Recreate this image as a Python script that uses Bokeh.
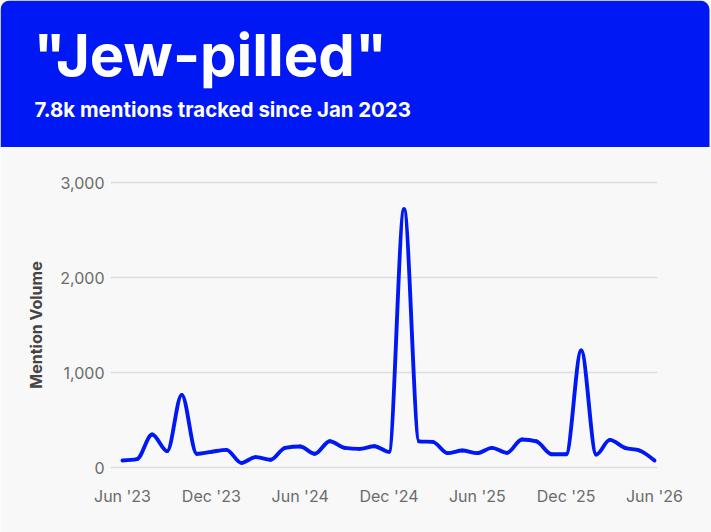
import numpy as np
import pandas as pd
from bokeh.embed import file_html
from bokeh.layouts import column
from bokeh.models import (BoxAnnotation, ColumnDataSource, DatetimeTickFormatter,
                          FixedTicker, Label, NumeralTickFormatter, Range1d)
from bokeh.plotting import figure
from bokeh.resources import INLINE

# ---- data -------------------------------------------------------------
months = [
    "2023-06", "2023-07", "2023-08", "2023-09", "2023-10", "2023-11", "2023-12",
    "2024-01", "2024-02", "2024-03", "2024-04", "2024-05", "2024-06", "2024-07",
    "2024-08", "2024-09", "2024-10", "2024-11", "2024-12",
    "2025-01", "2025-02", "2025-03", "2025-04", "2025-05", "2025-06", "2025-07",
    "2025-08", "2025-09", "2025-10", "2025-11", "2025-12",
    "2026-01", "2026-02", "2026-03", "2026-04", "2026-05", "2026-06",
]
mentions = [
    74, 88, 347, 172, 765, 144, 165,
    186, 49, 109, 81, 207, 221, 144,
    277, 207, 196, 224, 165,
    2720, 275, 270, 151, 179, 151, 207,
    154, 295, 274, 140, 140,
    1232, 137, 291, 207, 179, 74,
]
y_ticks = [0, 1000, 2000, 3000]
x_tick_months = ["2023-06", "2023-12", "2024-06", "2024-12", "2025-06", "2025-12", "2026-06"]

TITLE = '"Jew-pilled"'
SUBTITLE = "7.8k mentions tracked since Jan 2023"
Y_LABEL = "Mention Volume"

# ---- style ------------------------------------------------------------
BLUE = "#0019F4"
BG = "#F8F8F8"
GRID = "#DCDCDC"
TICK_TEXT = "#6B6B6B"
AXIS_TEXT = "#444444"
FONT = "Inter"
W, H = 711, 532
HEAD_H = 147


def to_ms(labels):
    return (pd.to_datetime(labels).astype("int64") // 10**6).to_numpy().astype(float)


def monotone_segments(x, y):
    """Cubic Bezier pieces of a monotone (Fritsch-Carlson / d3 monotoneX) curve."""
    x = np.asarray(x, float)
    y = np.asarray(y, float)
    n = len(x)
    h = np.diff(x)
    s = np.diff(y) / h
    t = np.zeros(n)
    for i in range(1, n - 1):
        h0, h1 = h[i - 1], h[i]
        s0, s1 = s[i - 1], s[i]
        p = (s0 * h1 + s1 * h0) / (h0 + h1)
        t[i] = (np.sign(s0) + np.sign(s1)) * min(abs(s0), abs(s1), 0.5 * abs(p))
    t[0] = (3 * s[0] - t[1]) / 2
    t[-1] = (3 * s[-1] - t[-2]) / 2
    d = h / 3
    return dict(
        x0=x[:-1], y0=y[:-1], x1=x[1:], y1=y[1:],
        cx0=x[:-1] + d, cy0=y[:-1] + t[:-1] * d,
        cx1=x[1:] - d, cy1=y[1:] - t[1:] * d,
    )


x_ms = to_ms(months)
src = ColumnDataSource(monotone_segments(x_ms, mentions))

# ---- header band (its own figure, one data unit = one pixel) ----------
head = figure(width=W, height=HEAD_H, x_range=Range1d(0, W), y_range=Range1d(HEAD_H, 0),
              x_axis_location=None, y_axis_location=None, toolbar_location=None,
              output_backend="svg", min_border=0, outline_line_color=None,
              background_fill_color=BG, border_fill_color=BG)
head.frame_align = False
head.grid.visible = False
head.add_layout(BoxAnnotation(left=0, right=709, top=0, bottom=HEAD_H,
                              fill_color=BLUE, fill_alpha=1.0, line_color=None,
                              border_radius=dict(top_left=9, top_right=9,
                                                 bottom_right=0, bottom_left=0)))
head.add_layout(Label(x=33, y=54, text=TITLE, text_font=FONT, text_font_size="58px",
                      text_font_style="bold", text_color="white",
                      text_baseline="alphabetic"))
head.add_layout(Label(x=34, y=109, text=SUBTITLE, text_font=FONT, text_font_size="20.4px",
                      text_font_style="bold", text_color="white",
                      text_baseline="alphabetic"))

# ---- line chart -------------------------------------------------------
PLOT_H = H - HEAD_H
left_px, right_px = 110, 657          # frame edges
first_px, last_px = 122, 654          # where the first / last month sit
px_ms = (last_px - first_px) / (x_ms[-1] - x_ms[0])
x_start = x_ms[0] - (first_px - left_px) / px_ms
x_end = x_ms[-1] + (right_px - last_px) / px_ms

frame_top, frame_h = 30, 295
pad = 5 * (y_ticks[-1] - y_ticks[0]) / (frame_h - 10)

p = figure(width=W, height=PLOT_H, x_axis_type="datetime",
           x_range=Range1d(x_start, x_end),
           y_range=Range1d(y_ticks[0] - pad, y_ticks[-1] + pad),
           toolbar_location=None, output_backend="svg",
           min_border_left=left_px, min_border_right=W - right_px,
           min_border_top=frame_top, min_border_bottom=PLOT_H - frame_top - frame_h,
           outline_line_color=None, background_fill_color=BG, border_fill_color=BG)
p.frame_align = False

p.bezier(x0="x0", y0="y0", x1="x1", y1="y1", cx0="cx0", cy0="cy0",
         cx1="cx1", cy1="cy1", source=src, line_color=BLUE, line_width=3.9,
         line_cap="round", line_join="round")

p.xgrid.visible = False
p.ygrid.grid_line_color = GRID
p.ygrid.grid_line_width = 1.5

p.yaxis.ticker = FixedTicker(ticks=y_ticks)
p.yaxis.formatter = NumeralTickFormatter(format="0,0")
p.xaxis.ticker = FixedTicker(ticks=list(to_ms(x_tick_months)))
p.xaxis.formatter = DatetimeTickFormatter(months="%b '%y", days="%b '%y")

for ax in (p.xaxis[0], p.yaxis[0]):
    ax.axis_line_color = None
    ax.major_tick_line_color = None
    ax.minor_tick_line_color = None
    ax.major_tick_out = 0
    ax.major_tick_in = 0
    ax.minor_tick_out = 0
    ax.major_label_text_font = FONT
    ax.major_label_text_font_size = "16px"
    ax.major_label_text_color = TICK_TEXT

p.yaxis.major_label_standoff = 6
p.xaxis.major_label_standoff = 13
p.yaxis.axis_label = Y_LABEL
p.yaxis.axis_label_text_font = FONT
p.yaxis.axis_label_text_font_size = "16px"
p.yaxis.axis_label_text_font_style = "bold"
p.yaxis.axis_label_text_color = AXIS_TEXT
p.yaxis.axis_label_standoff = 11

layout = column(head, p, spacing=0)
open("out.html", "w").write(file_html(layout, INLINE))
